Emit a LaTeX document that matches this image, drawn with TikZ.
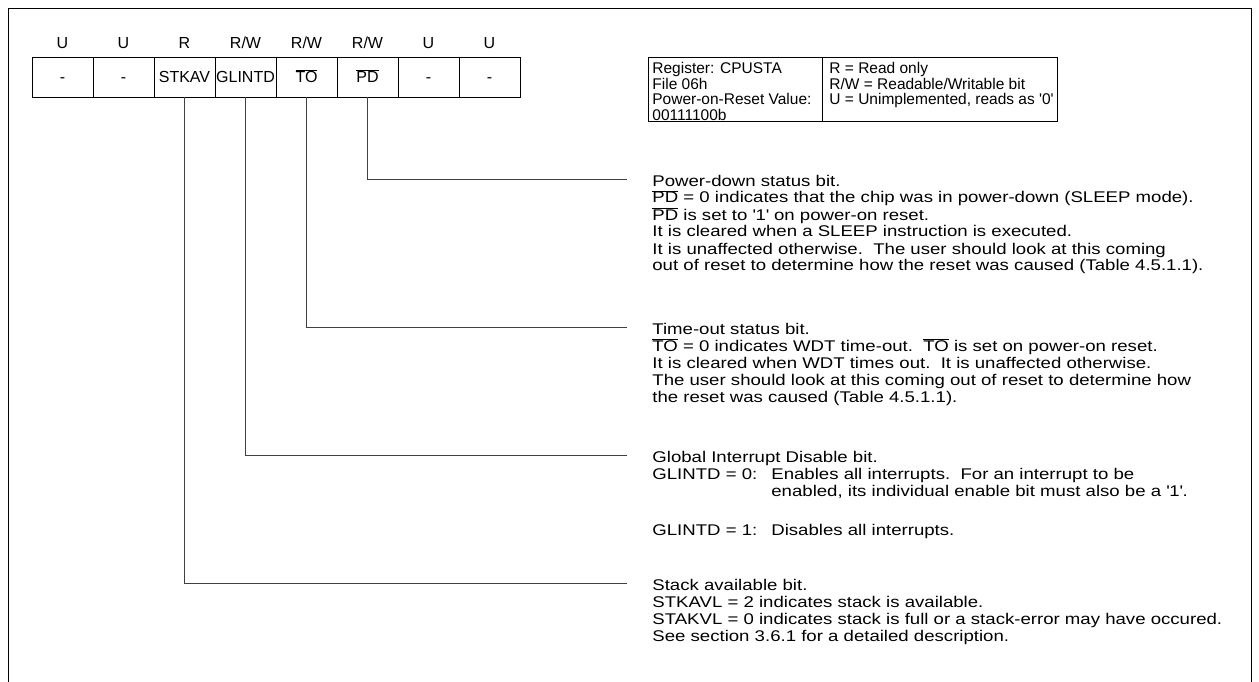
\documentclass[tikz,border=0pt]{standalone}
\usepackage{fontspec}
\setmainfont{Liberation Sans}
\newfontfamily\descfont[FakeStretch=1.2]{Liberation Sans}
\usetikzlibrary{positioning}
\newcommand{\ovl}[1]{\smash{\ensuremath{\overline{\mbox{#1}}}}}

\begin{document}
\begin{tikzpicture}[x=1pt, y=-1pt,
    font=\fontsize{16}{17}\selectfont, line width=0.8pt,
    bitcell/.style={draw, minimum width=61pt, minimum height=40pt, inner sep=0pt, outer sep=0pt, text height=11.5pt, text depth=0pt},
    access/.style={inner sep=0pt},
    conn/.style={line width=0.9pt, black!75},
    descr/.style={inner sep=0pt, anchor=base west, font=\descfont\fontsize{15.5}{17}\selectfont},
    infotext/.style={inner sep=0pt, anchor=base west, font=\fontsize{15.5}{15.5}\selectfont},
    infocell/.style={draw, inner sep=0pt, outer sep=0pt, anchor=north west}]
  \useasboundingbox (0,0) rectangle (1259,682);
  \draw (8,682) -- (8,8) -- (1251,8) -- (1251,682);

  % register bits, bit 7 on the left
  \node[bitcell] (b7) at (62.5,77) {-};
  \node[bitcell, right=0pt of b7] (b6) {-};
  \node[bitcell, right=0pt of b6] (b5) {STKAV};
  \node[bitcell, right=0pt of b5] (b4) {GLINTD};
  \node[bitcell, right=0pt of b4] (b3) {\ovl{TO}};
  \node[bitcell, right=0pt of b3] (b2) {\ovl{PD}};
  \node[bitcell, right=0pt of b2] (b1) {-};
  \node[bitcell, right=0pt of b1] (b0) {-};

  \node[access, above=8pt of b7.north, anchor=base] (a7) {U};
  \node[access, above=8pt of b6.north, anchor=base] (a6) {U};
  \node[access, above=8pt of b5.north, anchor=base] (a5) {R};
  \node[access, above=8pt of b4.north, anchor=base] (a4) {R/W};
  \node[access, above=8pt of b3.north, anchor=base] (a3) {R/W};
  \node[access, above=8pt of b2.north, anchor=base] (a2) {R/W};
  \node[access, above=8pt of b1.north, anchor=base] (a1) {U};
  \node[access, above=8pt of b0.north, anchor=base] (a0) {U};

  % register info and key
  \node[infocell, minimum width=174pt, minimum height=64pt] (reginfo) at (648,57) {};
  \node[infocell, minimum width=235pt, minimum height=64pt, right=0pt of reginfo] (keyinfo) {};
  \node[infotext] (regtxt) at (652,74) {\parbox[t]{170pt}{%
    Register: CPUSTA\\File 06h\\Power-on-Reset Value:\\00111100b}};
  \node[infotext] (keytxt) at (829,74) {\parbox[t]{228pt}{%
    R = Read only\\R/W = Readable/Writable bit\\U = Unimplemented, reads as \textquotesingle0\textquotesingle}};

  % leader lines
  \coordinate (pdend) at (627,179);
  \coordinate (toend) at (627,327);
  \coordinate (glend) at (627,455);
  \coordinate (stend) at (627,583);
  \draw[conn] (b2.south) |- (pdend);
  \draw[conn] (b3.south) |- (toend);
  \draw[conn] (b4.south) |- (glend);
  \draw[conn] (b5.south) |- (stend);

  \node[descr] (pdtxt) at (652,186) {\parbox[t]{595pt}{Power-down status bit.\\
    \ovl{PD} = 0 indicates that the chip was in power-down (SLEEP mode).\\
    \ovl{PD} is set to \textquotesingle1\textquotesingle{} on power-on reset.\\
    It is cleared when a SLEEP instruction is executed.\\
    It is unaffected otherwise.\ \ The user should look at this coming\\
    out of reset to determine how the reset was caused (Table 4.5.1.1).}};
  \node[descr] (totxt) at (652,334) {\parbox[t]{595pt}{Time-out status bit.\\
    \ovl{TO} = 0 indicates WDT time-out.\ \ \ovl{TO} is set on power-on reset.\\
    It is cleared when WDT times out.\ \ It is unaffected otherwise.\\
    The user should look at this coming out of reset to determine how\\
    the reset was caused (Table 4.5.1.1).}};
  \node[descr] (gltxt) at (652,462) {\parbox[t]{595pt}{Global Interrupt Disable bit.\\
    \makebox[119pt][l]{GLINTD = 0:}Enables all interrupts.\ \ For an interrupt to be\\
    \hspace*{119pt}enabled, its individual enable bit must also be a \textquotesingle1\textquotesingle.\\[22pt]
    \makebox[119pt][l]{GLINTD = 1:}Disables all interrupts.}};
  \node[descr] (sttxt) at (652,590) {\parbox[t]{595pt}{Stack available bit.\\
    STKAVL = 2 indicates stack is available.\\
    STAKVL = 0 indicates stack is full or a stack-error may have occured.\\
    See section 3.6.1 for a detailed description.}};
\end{tikzpicture}
\end{document}
